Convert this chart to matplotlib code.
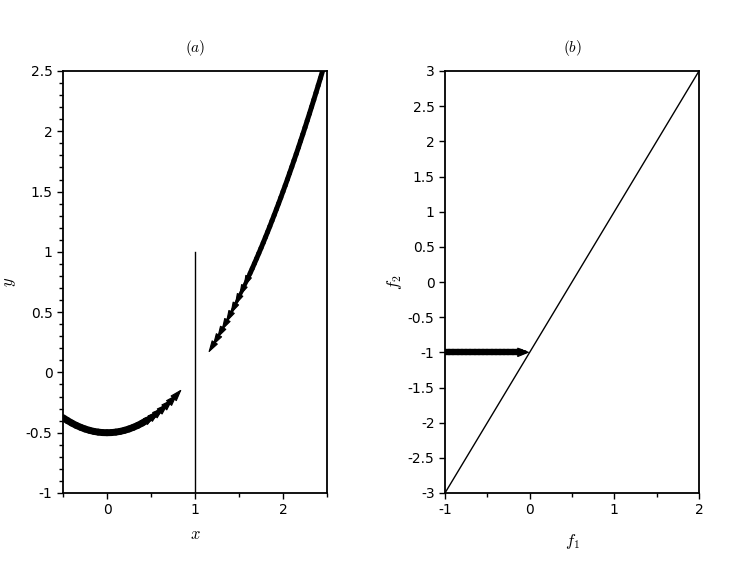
import numpy as np
import matplotlib
matplotlib.use("Agg")
import matplotlib.pyplot as plt
from matplotlib.patches import FancyArrowPatch
from matplotlib.collections import LineCollection
from matplotlib.ticker import MultipleLocator

plt.rcParams['mathtext.fontset'] = 'cm'
plt.rcParams['font.family'] = ['DejaVu Sans']

# panel (a): trajectory going right towards x = 1 (left branch)
left_x = [-0.50, -0.45, -0.40, -0.35, -0.30, -0.25, -0.20, -0.15, -0.10, -0.05,
          0.00, 0.05, 0.10, 0.15, 0.20, 0.25, 0.30, 0.35, 0.40, 0.45,
          0.50, 0.55, 0.60, 0.65, 0.70, 0.75, 0.80, 0.85]
left_y = [-0.375, -0.399, -0.420, -0.439, -0.455, -0.469, -0.480, -0.489, -0.495, -0.499,
          -0.500, -0.499, -0.495, -0.489, -0.480, -0.469, -0.455, -0.439, -0.420, -0.399,
          -0.375, -0.349, -0.320, -0.289, -0.255, -0.219, -0.180, -0.139]

# panel (a): trajectory coming down towards x = 1 (right branch)
right_x = [2.450, 2.425, 2.400, 2.375, 2.350, 2.325, 2.300, 2.275, 2.250, 2.225,
           2.200, 2.175, 2.150, 2.125, 2.100, 2.075, 2.050, 2.025, 2.000, 1.975,
           1.950, 1.925, 1.900, 1.875, 1.850, 1.825, 1.800, 1.775, 1.750, 1.725,
           1.700, 1.675, 1.650, 1.625, 1.600, 1.550, 1.500, 1.450, 1.400, 1.350,
           1.300, 1.250, 1.200, 1.150]
right_y = [2.501, 2.440, 2.380, 2.320, 2.261, 2.203, 2.145, 2.088, 2.031, 1.975,
           1.920, 1.865, 1.811, 1.758, 1.705, 1.653, 1.601, 1.550, 1.500, 1.450,
           1.401, 1.353, 1.305, 1.258, 1.211, 1.165, 1.120, 1.075, 1.031, 0.988,
           0.945, 0.903, 0.861, 0.820, 0.780, 0.701, 0.625, 0.551, 0.480, 0.411,
           0.345, 0.281, 0.220, 0.161]

# switching line in (a)
wall_x = [1, 1]
wall_y = [-1, 1]

# panel (b): sliding segment and the line f2 = 2 f1 - 1
slide_f1 = [-1.00, -0.95, -0.90, -0.85, -0.80, -0.75, -0.70, -0.65, -0.60, -0.55,
            -0.50, -0.45, -0.40, -0.35, -0.30, -0.25, -0.20, -0.15, -0.10, -0.05, 0.00]
slide_f2 = [-1.0] * len(slide_f1)
diag_f1 = [-1, 2]
diag_f2 = [-3, 3]

yticks_a = [-1, -0.5, 0, 0.5, 1, 1.5, 2, 2.5]
xticks_a = [0, 1, 2]
yticks_b = [-3, -2.5, -2, -1.5, -1, -0.5, 0, 0.5, 1, 1.5, 2, 2.5, 3]
xticks_b = [-1, 0, 1, 2]


def lab(v):
    return '%g' % v


def arrow_path(ax, xs, ys, band, taper, head_w, head_n):
    # thick band made of the segments, thinning over the last `taper` ones
    n = len(xs) - 1
    segs = [[(xs[i], ys[i]), (xs[i + 1], ys[i + 1])] for i in range(n)]
    widths = []
    for i in range(n):
        k = i - (n - taper)
        if k < 0:
            widths.append(band)
        else:
            widths.append(band * (1 - 0.8 * (k + 1) / taper))
    lc = LineCollection(segs[:-1], linewidths=widths[:-1], colors='black',
                        capstyle='round')
    ax.add_collection(lc)
    # arrow heads on the last segments
    for i in range(n - head_n, n):
        a = FancyArrowPatch((xs[i], ys[i]), (xs[i + 1], ys[i + 1]),
                            arrowstyle='-|>,head_length=0.75,head_width=%.2f' % head_w,
                            mutation_scale=10, shrinkA=0, shrinkB=0,
                            color='black', lw=0.8)
        ax.add_patch(a)


def style(ax):
    for sp in ax.spines.values():
        sp.set_linewidth(1.3)
    ax.tick_params(which='major', direction='out', length=4.5, width=1.0,
                   labelsize=10, top=False, right=False, pad=3)
    ax.tick_params(which='minor', direction='out', length=3, width=1.0,
                   top=False, right=False)


fig = plt.figure(figsize=(7.47, 5.64), dpi=100)
ax1 = fig.add_axes([63 / 747, 71 / 564, 264 / 747, 422 / 564])
ax2 = fig.add_axes([445 / 747, 71 / 564, 254 / 747, 422 / 564])

# (a)
arrow_path(ax1, left_x, left_y, band=5.0, taper=8, head_w=0.25, head_n=7)
arrow_path(ax1, right_x, right_y, band=3.6, taper=10, head_w=0.22, head_n=9)
ax1.plot(wall_x, wall_y, color='black', lw=1.0)
ax1.set_xlim(-0.5, 2.5)
ax1.set_ylim(-1, 2.5)
ax1.set_xticks(xticks_a)
ax1.set_xticklabels([lab(v) for v in xticks_a])
ax1.set_yticks(yticks_a)
ax1.set_yticklabels([lab(v) for v in yticks_a])
ax1.xaxis.set_minor_locator(MultipleLocator(0.5))
ax1.yaxis.set_minor_locator(MultipleLocator(0.1))
style(ax1)
ax1.set_xlabel('$x$', fontsize=12)
ax1.set_ylabel('$y$', fontsize=12)
ax1.xaxis.set_label_coords(0.5, -0.076)
ax1.yaxis.set_label_coords(-0.172, 0.5)
ax1.text(0.5, 1.055, '$(a)$', transform=ax1.transAxes, ha='center', va='center', fontsize=11)

# (b)
arrow_path(ax2, slide_f1, slide_f2, band=4.6, taper=2, head_w=0.3, head_n=1)
ax2.plot(diag_f1, diag_f2, color='black', lw=1.0)
ax2.set_xlim(-1, 2)
ax2.set_ylim(-3, 3)
ax2.set_xticks(xticks_b)
ax2.set_xticklabels([lab(v) for v in xticks_b])
ax2.set_yticks(yticks_b)
ax2.set_yticklabels([lab(v) for v in yticks_b])
ax2.xaxis.set_minor_locator(MultipleLocator(0.5))
style(ax2)
ax2.set_xlabel('$f_1$', fontsize=12)
ax2.set_ylabel('$f_2$', fontsize=12)
ax2.xaxis.set_label_coords(0.5, -0.092)
ax2.yaxis.set_label_coords(-0.161, 0.5)
ax2.text(0.5, 1.055, '$(b)$', transform=ax2.transAxes, ha='center', va='center', fontsize=11)

fig.savefig('out.png', dpi=100)
